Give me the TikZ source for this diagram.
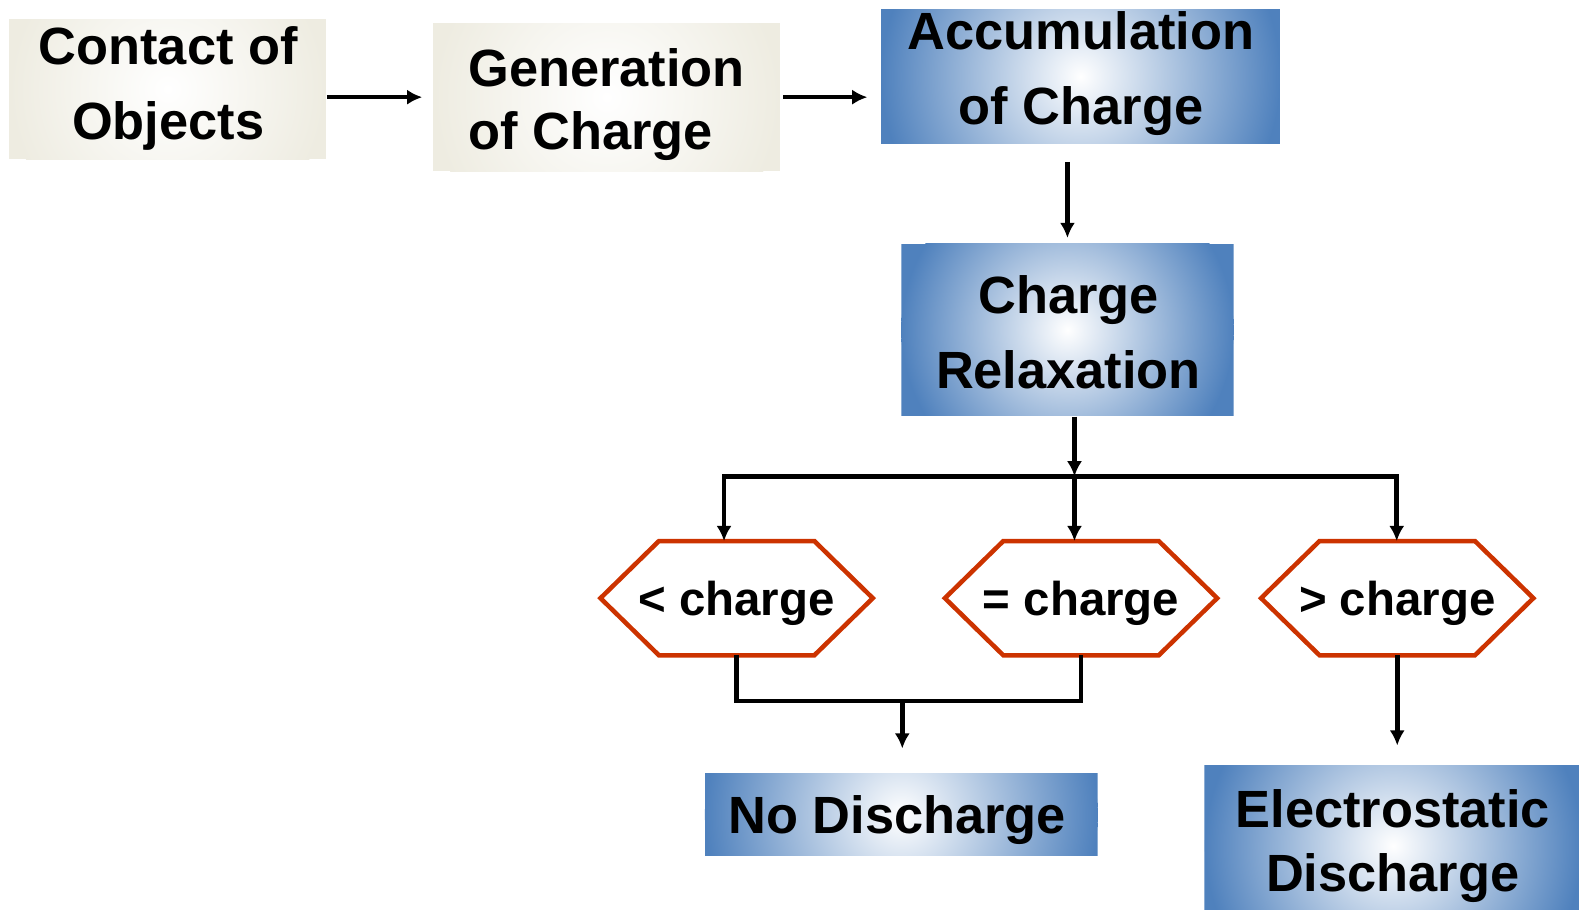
\documentclass[tikz,border=0pt]{standalone}
\usepackage{fontspec}
\setmainfont{Liberation Sans}
\usetikzlibrary{arrows.meta,calc}
\definecolor{beige}{HTML}{EEECE1}
\definecolor{steel}{HTML}{4F81BD}
\definecolor{hexred}{HTML}{CC3300}
\tikzset{
  shadebox/.style n args={4}{draw=none, inner sep=0pt, minimum width=#1, minimum height=#2,
    path picture={
      \fill[#3] (path picture bounding box.south west) rectangle (path picture bounding box.north east);
      \shade[inner color=white, outer color=#3] (path picture bounding box.center) circle [radius=#4];
    }},
  bigtxt/.style={font=\bfseries\fontsize{14.8}{21.3}\selectfont, align=center, text depth=0pt, inner sep=0pt},
  tighttxt/.style={font=\bfseries\fontsize{14.8}{17.9}\selectfont, text depth=0pt, inner sep=0pt},
  hexbox/.style={draw=none, inner sep=0pt, minimum width=26.9mm, minimum height=11.2mm,
    font=\bfseries\fontsize{13.4}{16}\selectfont, text depth=0pt},
  hexline/.style={draw=hexred, line width=0.45mm, line join=miter},
  conn/.style={line width=0.45mm},
  arr/.style={conn, -{Latex[length=1.5mm,width=1.5mm]}}
}
\begin{document}
\begin{tikzpicture}[x=0.1mm, y=-0.1mm]
\useasboundingbox (0,0) rectangle (1568,903);

% boxes
\node[shadebox={31.5mm}{13.9mm}{beige}{15.7mm}] (contact) at (166.5,88.5) {};
\node[shadebox={34.5mm}{14.7mm}{beige}{17.2mm}] (gen) at (602.5,96.5) {};
\node[shadebox={39.6mm}{13.4mm}{steel}{19.8mm}] (accum) at (1073,76) {};
\node[shadebox={33mm}{17.1mm}{steel}{16.5mm}] (relax) at (1060,327.5) {};
\node[shadebox={39mm}{8.2mm}{steel}{19.5mm}] (nodis) at (895,809) {};
\node[shadebox={37.5mm}{16mm}{steel}{18.7mm}] (esd) at (1383.5,840) {};

% texts
\node[bigtxt] (contact-t) at (167,82.5) {Contact of\\Objects};
\node[tighttxt, align=left] (gen-t) at (602.5,98.5) {Generation\\of Charge};
\node[bigtxt] (accum-t) at (1073.5,67.5) {Accumulation\\of Charge};
\node[bigtxt] (relax-t) at (1061,330) {Charge\\Relaxation};
\node[bigtxt] (nodis-t) at (891,809) {No Discharge};
\node[tighttxt, align=center] (esd-t) at (1383,834.5) {Electrostatic\\Discharge};

% hexagons
\node[hexbox] (h1) at (731.5,594) {< charge};
\node[hexbox] (h2) at (1073.5,594) {= charge};
\node[hexbox] (h3) at (1387.5,594) {> charge};
\foreach \h in {h1,h2,h3}
  \draw[hexline] (\h.west) -- ([xshift=5.8mm]\h.north west) -- ([xshift=-5.8mm]\h.north east)
     -- (\h.east) -- ([xshift=-5.8mm]\h.south east) -- ([xshift=5.8mm]\h.south west) -- cycle;

% connectors
\draw[arr, shorten >=1mm] (contact.east |- gen.west) -- (gen.west);
\draw[arr, shorten <=0.2mm, shorten >=1.3mm] (gen.east) -- (gen.east -| accum.west);
\draw[arr, shorten <=1.7mm, shorten >=0.5mm] (accum.south -| relax.north) -- (relax.north);

\coordinate (bus) at (1067,473);
\coordinate (busL) at (719,473);
\coordinate (busR) at (1387,473);
\draw[arr] (relax.south -| bus) -- (bus);
\draw[arr] (bus) -- (busL) -- (busL |- h1.north);
\draw[arr] (bus) -- (busR) -- (busR |- h3.north);
\draw[arr] (bus) -- (bus |- h2.north);

\coordinate (merge) at (896,696);
\draw[conn] (h1.south) -- (h1.south |- merge) -- (h2.south |- merge) -- (h2.south);
\draw[arr, shorten >=2.4mm] (merge) -- (merge |- nodis.north);
\draw[arr, shorten >=1.9mm] (h3.south) -- (h3.south |- esd.north);
\end{tikzpicture}
\end{document}
